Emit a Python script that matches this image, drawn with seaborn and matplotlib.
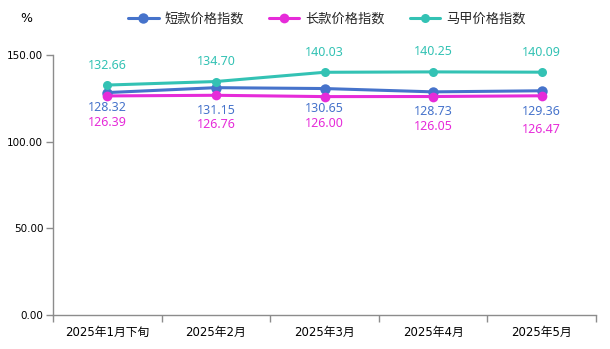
import matplotlib
matplotlib.use("Agg")
import matplotlib.pyplot as plt
from matplotlib.ticker import FixedLocator, FormatStrFormatter
import seaborn as sns
import pandas as pd

# Data
periods = ["2025年1月下旬", "2025年2月", "2025年3月", "2025年4月", "2025年5月"]
short_idx = [128.32, 131.15, 130.65, 128.73, 129.36]
long_idx = [126.39, 126.76, 126.00, 126.05, 126.47]
vest_idx = [132.66, 134.70, 140.03, 140.25, 140.09]
series_names = ["短款价格指数", "长款价格指数", "马甲价格指数"]
colors = ["#4673CB", "#E62BD9", "#33C2B4"]

sns.set_theme(style="white")
plt.rcParams["font.family"] = ["DejaVu Sans", "Noto Sans CJK SC"]

df = pd.DataFrame({
    "pos": list(range(len(periods))) * 3,
    "value": short_idx + long_idx + vest_idx,
    "series": sum([[n] * len(periods) for n in series_names], []),
})

fig = plt.figure(figsize=(6.10, 3.49), dpi=100)
ax = fig.add_axes([53 / 610, 1 - 315 / 349, (596 - 53) / 610, 260 / 349])

marker_sizes = [7.5, 7, 6.5]
for name, col, ms in zip(series_names, colors, marker_sizes):
    sub = df[df["series"] == name]
    sns.lineplot(data=sub, x="pos", y="value", ax=ax, color=col, lw=2.2,
                 marker="o", markersize=ms, markeredgewidth=0, label=name)

# Value labels
lbl_font = ["Noto Sans", "DejaVu Sans"]
blue_off = [-15, -23, -20, -20, -21]
mag_off = [-27, -29, -27, -30, -34]
for i in range(len(periods)):
    ax.annotate(f"{vest_idx[i]:.2f}", (i, vest_idx[i]), xytext=(0, 20 * 0.72),
                textcoords="offset points", ha="center", va="center",
                color=colors[2], fontsize=9, family=lbl_font)
    ax.annotate(f"{short_idx[i]:.2f}", (i, short_idx[i]), xytext=(0, blue_off[i] * 0.72),
                textcoords="offset points", ha="center", va="center",
                color=colors[0], fontsize=9, family=lbl_font)
    ax.annotate(f"{long_idx[i]:.2f}", (i, long_idx[i]), xytext=(0, mag_off[i] * 0.72),
                textcoords="offset points", ha="center", va="center",
                color=colors[1], fontsize=9, family=lbl_font)

# Axes styling
ax.set_xlim(-0.5, len(periods) - 0.5)
ax.set_ylim(0, 150)
ax.set_xlabel("")
ax.set_ylabel("")
ax.set_yticks([0, 50, 100, 150])
ax.yaxis.set_major_formatter(FormatStrFormatter("%.2f"))
ax.set_xticks(range(len(periods)))
ax.set_xticklabels(periods)
ax.xaxis.set_minor_locator(FixedLocator([i - 0.5 for i in range(len(periods) + 1)]))
ax.tick_params(axis="x", which="major", length=0, pad=8, labelsize=8.5, colors="black")
ax.tick_params(axis="x", which="minor", length=5, width=1, color="#8c8c8c", direction="out",
               bottom=True)
ax.tick_params(axis="y", which="major", length=5, width=1, color="#8c8c8c", direction="out",
               left=True, labelsize=7.5, labelcolor="black", pad=2)
for side in ["top", "right"]:
    ax.spines[side].set_visible(False)
for side in ["left", "bottom"]:
    ax.spines[side].set_color("#8c8c8c")
    ax.spines[side].set_linewidth(1)

ax.legend_.remove()
handles, labels = ax.get_legend_handles_labels()
fig.legend(handles, labels, loc="center", bbox_to_anchor=(327 / 610, 1 - 19 / 349), ncol=3,
           frameon=False, handlelength=2.3, handletextpad=0.45, columnspacing=1.9,
           prop={"family": ["Noto Sans CJK SC"], "size": 9.5})

fig.text(26 / 610, 1 - 18 / 349, "%", ha="center", va="center", fontsize=9, color="black")

fig.savefig("out.png", dpi=100)
